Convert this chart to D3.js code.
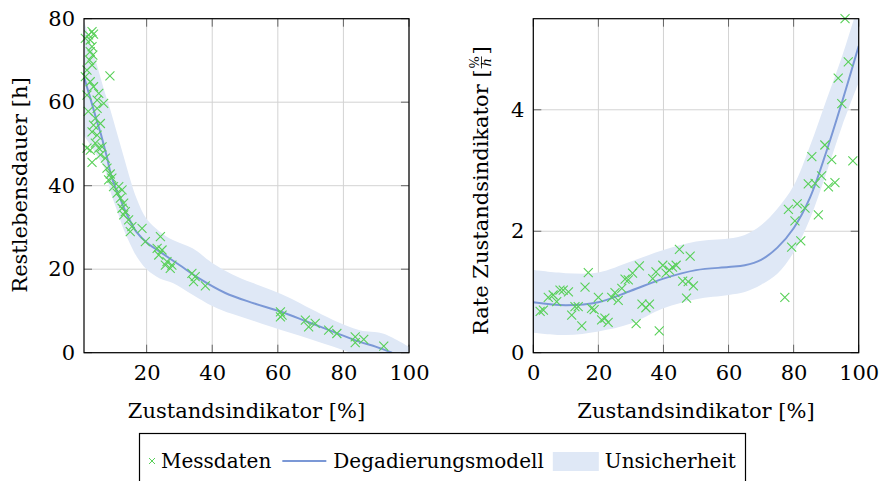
<!DOCTYPE html>
<html>
<head>
<meta charset="utf-8">
<script src="https://cdn.jsdelivr.net/npm/d3@7"></script>
<style>
body{margin:0;background:#fff;}
svg text{font-family:"DejaVu Serif",serif;fill:#000;}
</style>
</head>
<body>
<svg id="canvas" width="888" height="481"></svg>
<script>
// left chart: Restlebensdauer
let messLX=[3.35,2.3,3.8,1.3,2.8,3.35,2.8,3.6,2.6,3.35,1.8,8.8,1.3,2.8,3.8,5.4,6.9,1.8,4.9,2.2,4.9,4.35,3.8,5.9,3.35,4.9,1.8,4.35,3.35,5.4,7.4,7.9,5.9,2.8,
  6.4,8.9,8.4,9.4,9.9,11.5,12.5,11,12,13,12.5,13.5,13,14.5,15.5,15,18.6,19.6,24.2,23.2,24.7,23.7,26.2,27.7,27.2,25.7,33.8,34.8,34.3,37.9,
  60.8,61.3,60.8,68.4,69.4,71.4,75.5,78,83.6,83.6,86.2,92.3];
let messLY=[76.9,76.1,76.3,75.3,74.9,73.3,72.1,71.3,70.1,68.9,67.7,66.3,66.1,64.9,63.7,62.1,59.7,61.7,60.5,57.8,58.5,56.1,54.5,54.9,52.9,52.1,49,50.2,45.6,49,46.6,44.2,47.4,48.5,
  49.3,42.8,41.4,41.8,39.8,39.8,39,38.2,37,35.8,34.6,33.8,33,31.8,30.2,29,29.8,26.6,27.8,25,24.6,23.4,21.8,21,20.2,21,19,18.2,17,16,
  9.8,9,8.6,7.8,6.2,7,5.4,4.6,3.8,2.4,3.2,1.6];
let modelLX=[0.9,3,5,6,7,8,9,10.5,12,13,15,17,20,24,30,36,44,52,61,69,77,85,90,94.8];
let modelLY=[66,60.5,55,52.5,49.5,46.5,43,39.5,36.8,34.8,31.5,28.8,26.4,24.2,21,17.8,14.3,12,9.8,7.4,5,2.6,1.4,0];
let bandLX=[0.9,3,5,7,9,11,13,15,17,20,24,28,34,40,46,52,58,64,70,77,85,92,100];
let bandLHi=[79.5,74,68.5,63,58,52.5,47,41.5,36.8,32,29,27,25,21.5,18.8,16.8,15,13,10.5,7.8,5.4,4.6,1.4];
let bandLLo=[52,49.5,47,44.5,38.5,34,29.5,26,23,20,17.8,16.7,13.9,11.2,9.3,7.8,6.2,4.7,3.2,1.4,-0.8,-2.5,-4];

// right chart: Rate Zustandsindikator
let messRX=[2.1,3.1,4.6,6.1,7.2,8.2,9.2,10.8,11.8,12.8,13.8,14.9,15.9,16.9,17.9,18.7,20,21,22,23,24.1,25.1,26.1,27.2,28.2,29.2,30.5,31.6,32.6,33.4,34.6,35.7,36.7,37.7,38.7,39.8,40.8,41.8,42.8,43.9,44.9,45.9,47.1,47.6,48.2,49.2,
  77.3,78.4,79.4,80.4,81.1,82.2,83.5,84.5,85.6,86.6,87.6,88.6,89.6,90.7,91.7,92.7,93.7,94.8,95.8,96.8,98.2];
let messRY=[0.68,0.7,0.91,0.95,0.84,1.03,1.03,1.0,0.62,0.76,0.76,0.44,1.08,1.32,0.73,0.71,0.91,0.54,0.57,0.5,0.91,0.99,0.86,1.06,1.21,1.2,1.31,0.48,1.43,0.8,0.74,0.8,1.22,1.33,0.36,1.44,1.31,1.36,1.41,1.44,1.7,1.18,0.9,1.17,1.59,1.1,
  0.91,2.36,1.74,2.17,2.45,1.84,2.38,2.78,3.23,2.79,2.27,2.91,3.42,2.73,3.18,2.8,4.52,4.1,5.5,4.79,3.16];
let modelRX=[0,10,20,30,40,50,60,65,70,75,80,85,90,95,100];
let modelRY=[0.83,0.78,0.83,1.02,1.22,1.36,1.41,1.44,1.53,1.73,2.05,2.55,3.3,4.15,5.05];
let bandRX=[0,10,20,30,40,50,60,65,70,75,80,85,90,95,100];
let bandRHi=[1.36,1.31,1.32,1.5,1.69,1.83,1.88,1.94,2.1,2.37,2.75,3.4,4.15,4.9,5.75];
let bandRLo=[0.33,0.29,0.35,0.48,0.73,0.88,0.95,1.0,1.12,1.3,1.65,2.2,2.95,3.75,4.45];

let legendLabels=["Messdaten","Degadierungsmodell","Unsicherheit"];

let green="#58d058", blue="#7b98d6", fillBlue="#dfe8f6", gridCol="#d3d3d3";
let canvas=d3.select("#canvas");
let pTop=18.7, pBottom=352.7;

function panel(id,xScale,yScale,xTicks,yTicks,mx,my,modX,modY,bX,bHi,bLo){
  let x0=xScale.range()[0], x1=xScale.range()[1];
  let g=canvas.append("g").attr("id",id);
  g.append("clipPath").attr("id","clip-"+id).append("rect").attr("x",x0).attr("y",pTop).attr("width",x1-x0).attr("height",pBottom-pTop);
  // grid
  g.append("g").selectAll("line").data(xTicks).enter().append("line")
    .attr("x1",d=>xScale(d)).attr("x2",d=>xScale(d)).attr("y1",pTop).attr("y2",pBottom).attr("stroke",gridCol).attr("stroke-width",1);
  g.append("g").selectAll("line").data(yTicks).enter().append("line")
    .attr("y1",d=>yScale(d)).attr("y2",d=>yScale(d)).attr("x1",x0).attr("x2",x1).attr("stroke",gridCol).attr("stroke-width",1);
  // ticks on all sides
  let tl=8, tc="#666";
  let tk=g.append("g");
  xTicks.forEach(t=>{
    tk.append("line").attr("x1",xScale(t)).attr("x2",xScale(t)).attr("y1",pBottom).attr("y2",pBottom-tl).attr("stroke",tc);
    tk.append("line").attr("x1",xScale(t)).attr("x2",xScale(t)).attr("y1",pTop).attr("y2",pTop+tl).attr("stroke",tc);
  });
  yTicks.forEach(t=>{
    tk.append("line").attr("y1",yScale(t)).attr("y2",yScale(t)).attr("x1",x0).attr("x2",x0+tl).attr("stroke",tc);
    tk.append("line").attr("y1",yScale(t)).attr("y2",yScale(t)).attr("x1",x1).attr("x2",x1-tl).attr("stroke",tc);
  });
  let band=bX.map((d,i)=>[d,bLo[i],bHi[i]]);
  let area=d3.area().x(d=>xScale(d[0])).y0(d=>yScale(d[1])).y1(d=>yScale(d[2])).curve(d3.curveCatmullRom.alpha(0.5));
  g.append("path").datum(band).attr("d",area).attr("fill",fillBlue).attr("clip-path","url(#clip-"+id+")");
  let model=modX.map((d,i)=>[d,modY[i]]);
  let line=d3.line().x(d=>xScale(d[0])).y(d=>yScale(d[1])).curve(d3.curveCatmullRom.alpha(0.5));
  g.append("path").datum(model).attr("d",line).attr("fill","none").attr("stroke",blue).attr("stroke-width",2).attr("clip-path","url(#clip-"+id+")");
  let pts=mx.map((d,i)=>[d,my[i]]);
  let s=4.5;
  g.append("g").selectAll("path").data(pts).enter().append("path")
    .attr("d",d=>{let cx=xScale(d[0]),cy=yScale(d[1]);return `M${cx-s},${cy-s}L${cx+s},${cy+s}M${cx-s},${cy+s}L${cx+s},${cy-s}`;})
    .attr("stroke",green).attr("stroke-width",1.1).attr("fill","none");
  // frame
  g.append("rect").attr("x",x0).attr("y",pTop).attr("width",x1-x0).attr("height",pBottom-pTop).attr("fill","none").attr("stroke","#000").attr("stroke-width",1.2);
  // axes labels
  let xAxis=d3.axisBottom(xScale).tickValues(xTicks).tickFormat(d3.format("d")).tickSize(0).tickPadding(12);
  g.append("g").attr("transform","translate(0,"+pBottom+")").call(xAxis).attr("font-family",null).attr("font-size",null).call(a=>a.select(".domain").remove())
    .selectAll("text").style("font-size","21px");
  let yAxis=d3.axisLeft(yScale).tickValues(yTicks).tickFormat(d3.format("d")).tickSize(0).tickPadding(9);
  g.append("g").attr("transform","translate("+x0+",0)").call(yAxis).attr("font-family",null).attr("font-size",null).call(a=>a.select(".domain").remove())
    .selectAll("text").style("font-size","21px");
  g.append("text").attr("x",(x0+x1)/2).attr("y",418).attr("text-anchor","middle").style("font-size","21px").text("Zustandsindikator [%]");
  return g;
}

let xL=d3.scaleLinear().domain([0.9,100]).range([84,409]);
let yL=d3.scaleLinear().domain([0,80]).range([pBottom,pTop]);
let xR=d3.scaleLinear().domain([0,100]).range([533.3,858.7]);
let yR=d3.scaleLinear().domain([0,5.5]).range([pBottom,pTop]);

panel("left",xL,yL,[20,40,60,80,100],[0,20,40,60,80],messLX,messLY,modelLX,modelLY,bandLX,bandLHi,bandLLo);
panel("right",xR,yR,[0,20,40,60,80,100],[0,2,4],messRX,messRY,modelRX,modelRY,bandRX,bandRHi,bandRLo);

canvas.append("text").attr("transform","translate(27,185) rotate(-90)").attr("text-anchor","middle").style("font-size","21px").text("Restlebensdauer [h]");

// right y label with fraction
let yl=canvas.append("g").attr("transform","translate(488,335) rotate(-90)");
let main=yl.append("text").attr("x",0).attr("y",0).style("font-size","21px").text("Rate Zustandsindikator [");
let mw=main.node().getComputedTextLength();
yl.append("text").attr("x",mw+7).attr("y",-9).attr("text-anchor","middle").style("font-size","13px").text("%");
yl.append("line").attr("x1",mw+1).attr("x2",mw+13).attr("y1",-6.5).attr("y2",-6.5).attr("stroke","#000").attr("stroke-width",0.8);
yl.append("text").attr("x",mw+7).attr("y",3).attr("text-anchor","middle").style("font-size","13px").style("font-style","italic").text("h");
yl.append("text").attr("x",mw+15).attr("y",0).style("font-size","21px").text("]");

// legend
let lg=canvas.append("g");
lg.append("rect").attr("x",139.5).attr("y",433.5).attr("width",606).attr("height",50).attr("fill","#fff").attr("stroke","#000").attr("stroke-width",1.2);
let ly=461, fs="20px";
lg.append("path").attr("d",`M149,${ly-3}L155,${ly+3}M149,${ly+3}L155,${ly-3}`).attr("stroke",green).attr("stroke-width",1);
let t0=lg.append("text").attr("x",161).attr("y",468).style("font-size",fs).text(legendLabels[0]);
let cx=161+t0.node().getComputedTextLength()+11;
lg.append("line").attr("x1",cx).attr("x2",cx+44).attr("y1",ly).attr("y2",ly).attr("stroke",blue).attr("stroke-width",2);
cx+=51;
let t1=lg.append("text").attr("x",cx).attr("y",468).style("font-size",fs).text(legendLabels[1]);
cx+=t1.node().getComputedTextLength()+9;
lg.append("rect").attr("x",cx).attr("y",452).attr("width",46).attr("height",19).attr("fill",fillBlue);
cx+=52;
lg.append("text").attr("x",cx).attr("y",468).style("font-size",fs).text(legendLabels[2]);
</script>
</body>
</html>
